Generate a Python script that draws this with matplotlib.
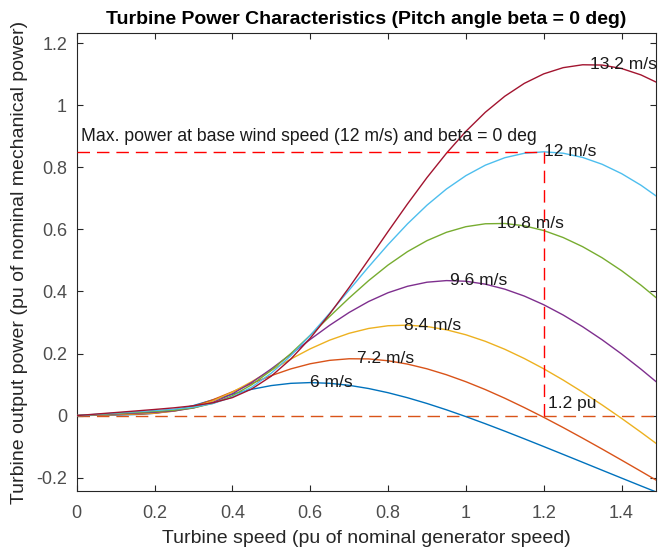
import matplotlib
matplotlib.use('Agg')
import matplotlib.pyplot as plt
from matplotlib.ticker import FuncFormatter, FixedLocator

plt.rcParams['font.family'] = ['Liberation Sans', 'DejaVu Sans']

# Turbine speed (pu of nominal generator speed)
speed = [0.00, 0.05, 0.10, 0.15, 0.20, 0.25, 0.30, 0.35, 0.40, 0.45,
         0.50, 0.55, 0.60, 0.65, 0.70, 0.75, 0.80, 0.85, 0.90, 0.95,
         1.00, 1.05, 1.10, 1.15, 1.20, 1.25, 1.30, 1.35, 1.40, 1.45, 1.50]

wind_labels = ['6 m/s', '7.2 m/s', '8.4 m/s', '9.6 m/s', '10.8 m/s', '12 m/s', '13.2 m/s']

p_6 = [0, 0.0010, 0.0020, 0.0034, 0.0075, 0.0171, 0.0323, 0.0506, 0.0689, 0.0848,
       0.0967, 0.1039, 0.1063, 0.1040, 0.0975, 0.0872, 0.0737, 0.0575, 0.0390, 0.0186,
       -0.0033, -0.0263, -0.0502, -0.0748, -0.0998, -0.1251, -0.1505, -0.1760, -0.2014, -0.2267, -0.2517]
p_7_2 = [0, 0.0015, 0.0029, 0.0045, 0.0074, 0.0149, 0.0295, 0.0510, 0.0766, 0.1035,
         0.1288, 0.1504, 0.1670, 0.1780, 0.1831, 0.1826, 0.1767, 0.1659, 0.1507, 0.1316,
         0.1091, 0.0838, 0.0559, 0.0259, -0.0056, -0.0386, -0.0728, -0.1078, -0.1435, -0.1797, -0.2162]
p_8_4 = [0, 0.0020, 0.0040, 0.0060, 0.0085, 0.0142, 0.0263, 0.0469, 0.0756, 0.1096,
         0.1462, 0.1821, 0.2151, 0.2431, 0.2652, 0.2807, 0.2895, 0.2914, 0.2870, 0.2765,
         0.2604, 0.2393, 0.2137, 0.1840, 0.1508, 0.1145, 0.0755, 0.0343, -0.0089, -0.0538, -0.1000]
p_9_6 = [0, 0.0026, 0.0052, 0.0078, 0.0106, 0.0150, 0.0245, 0.0423, 0.0700, 0.1069,
         0.1504, 0.1976, 0.2454, 0.2910, 0.3323, 0.3676, 0.3959, 0.4167, 0.4298, 0.4350,
         0.4329, 0.4235, 0.4074, 0.3852, 0.3572, 0.3241, 0.2863, 0.2443, 0.1986, 0.1495, 0.0976]
p_10_8 = [0, 0.0033, 0.0066, 0.0099, 0.0133, 0.0173, 0.0249, 0.0394, 0.0639, 0.0997,
          0.1457, 0.1997, 0.2587, 0.3194, 0.3789, 0.4348, 0.4851, 0.5284, 0.5637, 0.5906,
          0.6087, 0.6181, 0.6190, 0.6116, 0.5964, 0.5738, 0.5443, 0.5086, 0.4670, 0.4201, 0.3684]
p_12 = [0, 0.0041, 0.0081, 0.0122, 0.0163, 0.0208, 0.0273, 0.0390, 0.0597, 0.0919,
        0.1367, 0.1929, 0.2584, 0.3300, 0.4046, 0.4792, 0.5510, 0.6179, 0.6780, 0.7301,
        0.7732, 0.8070, 0.8310, 0.8453, 0.8500, 0.8455, 0.8319, 0.8099, 0.7798, 0.7422, 0.6977]
p_13_2 = [0, 0.0049, 0.0098, 0.0147, 0.0197, 0.0250, 0.0316, 0.0412, 0.0579, 0.0860,
          0.1271, 0.1820, 0.2494, 0.3275, 0.4128, 0.5024, 0.5931, 0.6821, 0.7669, 0.8453,
          0.9159, 0.9775, 1.0291, 1.0705, 1.1012, 1.1212, 1.1305, 1.1296, 1.1185, 1.0978, 1.0680]

curves = [p_6, p_7_2, p_8_4, p_9_6, p_10_8, p_12, p_13_2]

# Label anchor points (peak of each curve)
peak_speed = [0.60, 0.72, 0.84, 0.96, 1.08, 1.20, 1.32]
peak_power = [0.1063, 0.1836, 0.2916, 0.4352, 0.6197, 0.8500, 1.1314]

base_speed = 1.2
base_power = 0.85

colors = ['#0072BD', '#D95319', '#EDB120', '#7E2F8E', '#77AC30', '#4DBEEE', '#A2142F']
axis_col = '#262626'

fig = plt.figure(figsize=(6.58, 5.50), dpi=100)
ax = fig.add_axes([0.1166, 0.1073, 0.8804, 0.8322])

for y, c in zip(curves, colors):
    ax.plot(speed, y, color=c, lw=1.0, zorder=3)

# zero line
ax.plot([speed[0], speed[-1]], [0, 0], color='#D95319', lw=1.0, dashes=(9, 5), zorder=2)
# max power markers
ax.plot([0, base_speed], [base_power, base_power], color='#FF0000', lw=1.0, dashes=(9, 5), zorder=4)
ax.plot([base_speed, base_speed], [0, base_power], color='#FF0000', lw=1.0, dashes=(9, 5), zorder=4)

for xs, ys, lab in zip(peak_speed, peak_power, wind_labels):
    ax.text(xs, ys, lab, ha='left', va='center', fontsize=12.5, color='#1a1a1a', zorder=5)

ax.text(0.01, 0.90, 'Max. power at base wind speed (12 m/s) and beta = 0 deg',
        ha='left', va='center', fontsize=12.7, color='#1a1a1a', zorder=5)
ax.text(1.21, 0.04, '1.2 pu', ha='left', va='center', fontsize=12.5, color='#1a1a1a', zorder=5)

ax.set_xlim(0, 1.4886)
ax.set_ylim(-0.243, 1.232)
ax.xaxis.set_major_locator(FixedLocator([0, 0.2, 0.4, 0.6, 0.8, 1.0, 1.2, 1.4]))
ax.yaxis.set_major_locator(FixedLocator([-0.2, 0, 0.2, 0.4, 0.6, 0.8, 1.0, 1.2]))
fmt = FuncFormatter(lambda v, p: ('%g' % round(v, 6)))
ax.xaxis.set_major_formatter(fmt)
ax.yaxis.set_major_formatter(fmt)
ax.tick_params(direction='in', top=True, right=True, length=4, width=0.8,
               colors=axis_col, labelsize=13)
ax.tick_params(axis='x', colors=axis_col, labelcolor='#4d4d4d', pad=10)
ax.tick_params(axis='y', colors=axis_col, labelcolor='#4d4d4d', pad=7)
for s in ax.spines.values():
    s.set_color(axis_col)
    s.set_linewidth(0.8)

ax.set_title('Turbine Power Characteristics (Pitch angle beta = 0 deg)',
             fontsize=14, fontweight='bold', color='#000000', pad=7)
ax.set_xlabel('Turbine speed (pu of nominal generator speed)', fontsize=14, color=axis_col, labelpad=6)
ax.set_ylabel('Turbine output power (pu of nominal mechanical power)', fontsize=14, color=axis_col, labelpad=6)

fig.savefig('out.png', dpi=100)
